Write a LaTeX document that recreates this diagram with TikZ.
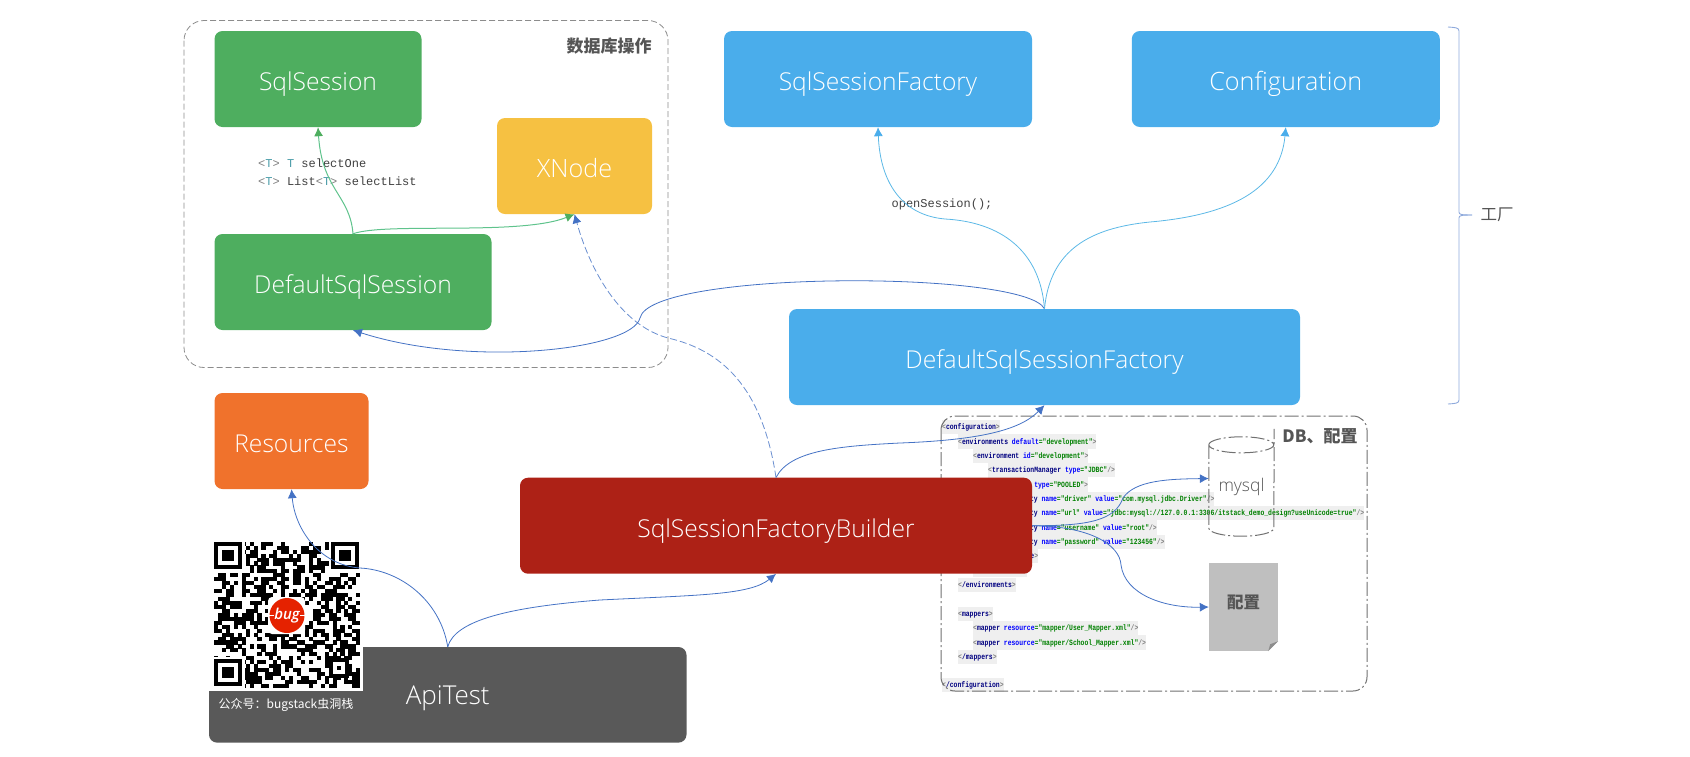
\documentclass[tikz,border=0pt]{standalone}
\usepackage{fontspec}
\usetikzlibrary{arrows.meta}
\setmainfont{Open Sans Light}
\newfontfamily\cjk{Noto Sans CJK SC}
\newfontfamily\xmlf[FakeStretch=0.8]{Liberation Mono}
\newfontfamily\codef{Liberation Mono}
\definecolor{cgreen}{HTML}{4EAE5F}
\definecolor{cyellow}{HTML}{F6C142}
\definecolor{cblue}{HTML}{4AADEB}
\definecolor{corange}{HTML}{F0722C}
\definecolor{cred}{HTML}{AD2116}
\definecolor{cdark}{HTML}{595959}
\definecolor{lnblue}{HTML}{4472C4}
\definecolor{lnsky}{HTML}{5CB8E6}
\definecolor{lngreen}{HTML}{5FC38C}
\definecolor{frame}{HTML}{8C8C8C}
\definecolor{txt}{HTML}{555555}
\definecolor{xtag}{HTML}{000080}
\definecolor{xatt}{HTML}{0000FF}
\definecolor{xval}{HTML}{008000}
\definecolor{xbr}{HTML}{808080}
\definecolor{xbg}{HTML}{EFEFEF}
\definecolor{ttype}{HTML}{4A9CA8}
\newcommand\LT{\textcolor{xbr}{<}}
\newcommand\GT{\textcolor{xbr}{>}}
\newcommand\SG{\textcolor{xbr}{/>}}
\newcommand\Tg[1]{\textcolor{xtag}{#1}}
\newcommand\At[1]{\textcolor{xatt}{#1}}
\newcommand\Vl[1]{\textcolor{xval}{=\char34 #1\char34}}
\newcommand\xl[4]{\node[xmlline] (#1) at (#2,#3) {#4};}
\tikzset{
  x=1pt,y=-1pt,
  box/.style={rounded corners=8pt,text=white,inner sep=0pt,text height=22.6pt,text depth=0pt,font=\fontsize{24.6}{28}\selectfont},
  boxwide/.style={font=\fontsize{25.2}{28}\selectfont},
  boxat/.style args={#1/#2/#3}{minimum width=#1pt,minimum height=#2pt,fill=#3},
  xmlline/.style={anchor=west,fill=xbg,inner sep=0pt,text height=10pt,text depth=4.3pt,font=\xmlf\bfseries\fontsize{8}{10}\selectfont},
  blueln/.style={draw=lnblue,line width=0.8pt,-{Latex[length=9pt,width=9pt]}},
  skyln/.style={draw=lnsky,line width=0.8pt,-{Latex[length=9pt,width=9pt,color=cblue]}},
  greenln/.style={draw=lngreen,line width=1pt,-{Latex[length=9pt,width=9pt,color=cgreen]}},
  frametitle/.style={text=txt,inner sep=0pt,font=\cjk\bfseries\fontsize{17}{20}\selectfont},
  code/.style={inner sep=0pt,anchor=west,text=black!75,font=\codef\fontsize{12}{14}\selectfont},
}
\newcount\qrs
\begin{document}
\begin{tikzpicture}
\useasboundingbox (0,0) rectangle (1690,756);
% database frame
\draw[frame,dashed,dash pattern=on 6pt off 3pt,rounded corners=20pt,line width=0.8pt] (184,20.5) rectangle (668,367.5);
% xml listing
\xl{x0}{942}{427}{\LT\Tg{configuration}\GT}
\xl{x1}{958}{441.5}{\LT\Tg{environments} \At{default}\Vl{development}\GT}
\xl{x2}{973}{456}{\LT\Tg{environment} \At{id}\Vl{development}\GT}
\xl{x3}{988}{470}{\LT\Tg{transactionManager} \At{type}\Vl{JDBC}\SG}
\xl{x4}{988}{484.5}{\LT\Tg{dataSource} \At{type}\Vl{POOLED}\GT}
\xl{x5}{1003}{499}{\LT\Tg{property} \At{name}\Vl{driver} \At{value}\Vl{com.mysql.jdbc.Driver}\SG}
\xl{x6}{1003}{513}{\LT\Tg{property} \At{name}\Vl{url} \At{value}\Vl{jdbc:mysql://127.0.0.1:3306/itstack\_demo\_design?useUnicode=true}\SG}
\xl{x7}{1003}{527.5}{\LT\Tg{property} \At{name}\Vl{username} \At{value}\Vl{root}\SG}
\xl{x8}{1003}{542}{\LT\Tg{property} \At{name}\Vl{password} \At{value}\Vl{123456}\SG}
\xl{x9}{988}{556}{\LT\Tg{/dataSource}\GT}
\xl{x10}{973}{570}{\LT\Tg{/environment}\GT}
\xl{x11}{958}{585}{\LT\Tg{/environments}\GT}
\xl{x13}{958}{614}{\LT\Tg{mappers}\GT}
\xl{x14}{973}{628}{\LT\Tg{mapper} \At{resource}\Vl{mapper/User\_Mapper.xml}\SG}
\xl{x15}{973}{642.5}{\LT\Tg{mapper} \At{resource}\Vl{mapper/School\_Mapper.xml}\SG}
\xl{x16}{958}{657}{\LT\Tg{/mappers}\GT}
\xl{x18}{942}{685}{\LT\Tg{/configuration}\GT}
% DB frame
\draw[frame!80!black,dash pattern=on 14pt off 3pt on 2pt off 3pt,rounded corners=14pt,line width=1pt] (941,416) rectangle (1367,691);
% boxes
\node[box,boxat=207/96/cgreen] (ss) at (318,79) {SqlSession};
\node[box,boxwide,boxat=155/96/cyellow] (xn) at (574.5,166) {XNode};
\node[box,boxat=277/96/cgreen] (dss) at (353,282) {DefaultSqlSession};
\node[box,boxat=154/96/corange] (res) at (291.5,441) {Resources};
\node[box,boxat=477.5/95.6/cdark] (api) at (447.75,694.8) {\hspace{0pt}};
\node[box,boxat=512/96/cred] (bld) at (776,525.7) {SqlSessionFactoryBuilder};
\node[box,boxat=308/96/cblue] (ssf) at (878,79) {SqlSessionFactory};
\node[box,boxwide,boxat=308/96/cblue] (cfg) at (1285.8,79) {Configuration};
\node[box,boxat=511/96/cblue] (dsf) at (1044.5,357) {DefaultSqlSessionFactory};
\node[inner sep=0pt,text=white,text height=22.6pt,text depth=0pt,font=\fontsize{26}{28}\selectfont] (apit) at (447.75,693) {ApiTest};
% titles
\node[frametitle] (t1) at (609,46) {数据库操作};
\node[frametitle] (t2) at (1320,436) {DB、配置};
% cylinder
\node[inner sep=0pt,minimum width=65pt,minimum height=83pt,text=txt,font=\fontsize{17.5}{22}\selectfont] (db) at (1241.5,478.5) {\smash{\raisebox{-12.5pt}{mysql}}};
\draw[frame!80!black,dash pattern=on 14pt off 3pt on 2pt off 3pt,line width=1pt]
  (db.north west)++(0,8) arc[start angle=180,end angle=-180,x radius=32.5pt,y radius=8pt]
  (db.north west)++(0,8) -- ([yshift=-8pt]db.south west) arc[start angle=180,end angle=360,x radius=32.5pt,y radius=8pt] -- ([yshift=8pt]db.north east);
% document
\node[fill=black!25,inner sep=0pt,minimum width=69pt,minimum height=88pt,text=txt,font=\cjk\bfseries\fontsize{16.5}{20}\selectfont] (doc) at (1243.5,607) {\smash{\raisebox{-1pt}{配置}}};
\fill[white] (doc.south east)++(-10,0) -- (doc.south east) -- ++(0,-10) -- cycle;
\fill[black!45] (doc.south east)++(-10,0) -- ++(2,-7) -- ++(8,-3) -- cycle;
% QR
\fill[white] (209,541) rectangle (363,691);
\begin{scope}
\global\qrs=1297
\foreach \r in {0,...,36}{\foreach \c in {0,...,36}{
  \global\qrs=\numexpr\qrs*171-30269*((\qrs*171-15134)/30269)\relax
  \ifnum\qrs>14500\relax
    \fill[black] ({214+\c*3.95},{541.7+\r*3.95}) rectangle ++(4.1,4.1);
  \fi
}}
\foreach \ox/\oy in {214/541.7,331/541.7,214/658.7}{
  \fill[white] ({\ox-2},{\oy-2}) rectangle ++(33,33);
  \fill[black] (\ox,\oy) rectangle ++(27.6,27.6);
  \fill[white] ({\ox+3.95},{\oy+3.95}) rectangle ++(19.7,19.7);
  \fill[black] ({\ox+7.9},{\oy+7.9}) rectangle ++(11.8,11.8);
}
\fill[black] (329,658) rectangle ++(19.7,19.7);
\fill[white] (333,662) rectangle ++(11.8,11.8);
\fill[black] (337,666) rectangle ++(3.9,3.9);
\fill[white,rounded corners=4pt] (268,597) rectangle (305,634);
\end{scope}
\node[circle,fill=red!70!orange!90!black,minimum size=35pt,inner sep=0pt,text=white,font=\bfseries\itshape\fontsize{15}{16}\selectfont] (logo) at (287,615.5) {bug};
\draw[white,line width=0.6pt] (logo.west) -- ++(5,0) (logo.east) -- ++(-5,0);
\node[inner sep=0pt,text=white,font=\cjk\fontsize{12}{14}\selectfont] (cap) at (286,705) {公众号：bugstack虫洞栈};
% code labels
\node[code] (c1) at (258,163) {\textcolor{xbr}{<}\textcolor{ttype}{T}\textcolor{xbr}{>} \textcolor{ttype}{T} selectOne};
\node[code] (c2) at (258,181) {\textcolor{xbr}{<}\textcolor{ttype}{T}\textcolor{xbr}{>} List\textcolor{xbr}{<}\textcolor{ttype}{T}\textcolor{xbr}{>} selectList};
\node[code,anchor=center] (c3) at (942,204) {openSession();};
% connectors
\path[greenln] (dss.north) .. controls (350,195) and (322,190) .. (ss.south);
\path[greenln] (dss.north) .. controls (385,222) and (520,236) .. (xn.south);
\path[draw=lnblue!80,line width=0.8pt,dash pattern=on 7pt off 3pt,-{Latex[length=9pt,width=9pt,color=lnblue]}] (bld.north) .. controls (762,385) and (720,350) .. (668,338) .. controls (620,325) and (590,270) .. (xn.south);
\path[blueln] (dsf.north) .. controls (1025,270) and (650,270) .. (640,318) .. controls (632,350) and (470,368) .. (dss.south);
\path[skyln] (dsf.north) .. controls (1040,250) and (1000,222) .. (945,219) .. controls (900,215) and (880,180) .. (ssf.south);
\path[skyln] (dsf.north) .. controls (1050,250) and (1090,228) .. (1150,222) .. controls (1230,215) and (1280,190) .. (cfg.south);
\path[blueln] (bld.north) .. controls (790,450) and (840,446) .. (900,443) .. controls (980,440) and (1020,430) .. (dsf.south);
\path[blueln] (bld.east) .. controls (1090,526) and (1115,520) .. (1123,498) .. controls (1135,480) and (1170,479) .. (db.west);
\path[blueln] (bld.east) .. controls (1090,526) and (1120,545) .. (1121,565) .. controls (1125,595) and (1165,608) .. (doc.west);
\path[blueln] (api.north) .. controls (455,620) and (510,607) .. (600,600) .. controls (700,595) and (750,595) .. (bld.south);
\path[blueln] (api.north) .. controls (440,600) and (400,570) .. (360,568) .. controls (320,565) and (295,530) .. (res.south);
% brace
\coordinate (bt) at (1448,27);
\coordinate (bb) at (1448,404);
\coordinate (bm) at (1472,215);
\draw[lnblue!60,line width=0.9pt] (bt) .. controls (1455,27.5) and (1459,27.5) .. (1459,31) -- (1459,212) .. controls (1459,214.5) and (1461,215) .. (bm);
\draw[lnblue!60,line width=0.9pt] (bm) .. controls (1461,215) and (1459,215.5) .. (1459,218) -- (1459,400) .. controls (1459,403.5) and (1455,403.5) .. (bb);
\node[inner sep=0pt,text=txt,font=\cjk\fontsize{16.5}{20}\selectfont] (fac) at (1497,215) {工厂};
\end{tikzpicture}
\end{document}
